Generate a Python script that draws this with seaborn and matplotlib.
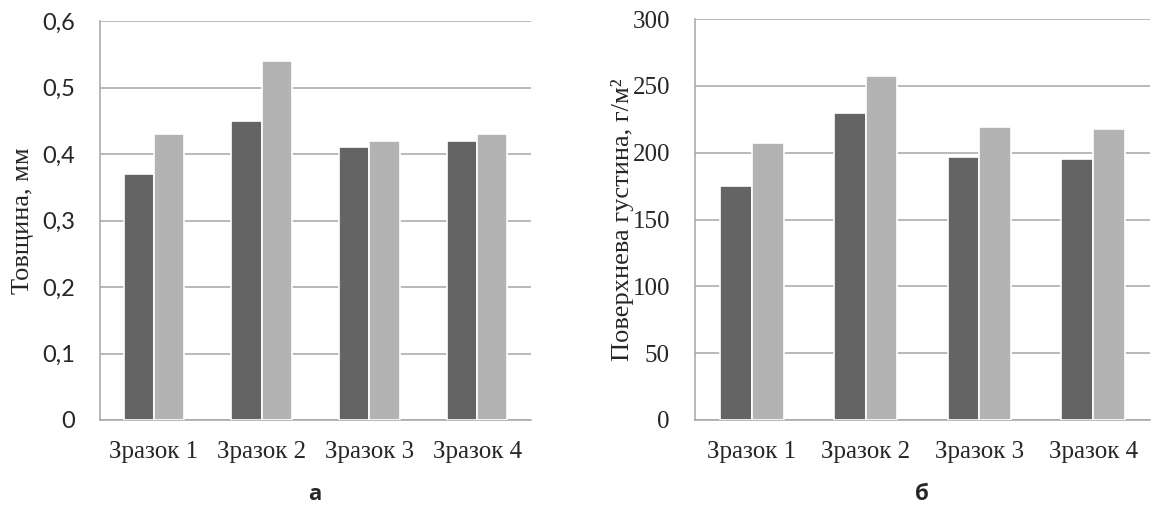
import pandas as pd
import numpy as np
import matplotlib.pyplot as plt
import seaborn as sns

sns.set_style("white")
plt.rcParams['font.family'] = ['Liberation Serif', 'DejaVu Serif']

samples = ['Зразок 1', 'Зразок 2', 'Зразок 3', 'Зразок 4']
series = ['Серія 1', 'Серія 2']
thickness_1 = [0.37, 0.45, 0.41, 0.42]
thickness_2 = [0.43, 0.54, 0.42, 0.43]
density_1 = [175, 230, 197, 195]
density_2 = [207, 257, 219, 218]

thick_ticks = [0, 0.1, 0.2, 0.3, 0.4, 0.5, 0.6]
thick_labels = ['0', '0,1', '0,2', '0,3', '0,4', '0,5', '0,6']
dens_ticks = [0, 50, 100, 150, 200, 250, 300]

colors = ['#646464', '#b3b3b3']
grid_c = '#a6a6a6'

df_a = pd.DataFrame({
    'Sample': samples * 2,
    'Series': [series[0]] * 4 + [series[1]] * 4,
    'Value': thickness_1 + thickness_2,
})
df_b = pd.DataFrame({
    'Sample': samples * 2,
    'Series': [series[0]] * 4 + [series[1]] * 4,
    'Value': density_1 + density_2,
})

fig = plt.figure(figsize=(11.52, 5.19), dpi=100)
ax1 = fig.add_axes([100 / 1152, 1 - 420 / 519, 431 / 1152, 399 / 519])
ax2 = fig.add_axes([695 / 1152, 1 - 420 / 519, 455 / 1152, 401 / 519])


def draw(ax, df, ticks, labels, ylabel, tick_font, tick_size, lab_x):
    sns.barplot(data=df, x='Sample', y='Value', hue='Series', palette=colors,
                width=0.56, edgecolor='white', linewidth=1.2, legend=False,
                ax=ax, zorder=3)
    ax.set_ylim(ticks[0], ticks[-1])
    ax.set_xlim(-0.5, 3.5)
    ax.set_yticks(ticks)
    ax.set_yticklabels(labels, family=tick_font, fontsize=tick_size)
    ax.yaxis.grid(True, color=grid_c, linewidth=1.1, zorder=0)
    ax.set_axisbelow(True)
    for s in ['top', 'right']:
        ax.spines[s].set_visible(False)
    for s in ['left', 'bottom']:
        ax.spines[s].set_color(grid_c)
        ax.spines[s].set_linewidth(1.1)
    ax.tick_params(axis='y', length=0, pad=18)
    ax.tick_params(axis='x', length=0, labelsize=18, pad=15)
    ax.set_xlabel('')
    ax.set_ylabel(ylabel, fontsize=19)
    ax.yaxis.set_label_coords(lab_x, 0.5)


draw(ax1, df_a, thick_ticks, thick_labels, 'Товщина, мм', 'Lato', 17,
     -66 / 431)
draw(ax2, df_b, dens_ticks, [str(t) for t in dens_ticks],
     'Поверхнева густина, г/м²', 'Liberation Serif', 18, -61 / 455)

fig.text(315 / 1152, 1 - 495 / 519, 'а', family='Open Sans', fontweight='bold',
         fontsize=16, ha='center', va='center')
fig.text(922 / 1152, 1 - 495 / 519, 'б', family='Open Sans', fontweight='bold',
         fontsize=16, ha='center', va='center')

fig.savefig('out.png', dpi=100)
